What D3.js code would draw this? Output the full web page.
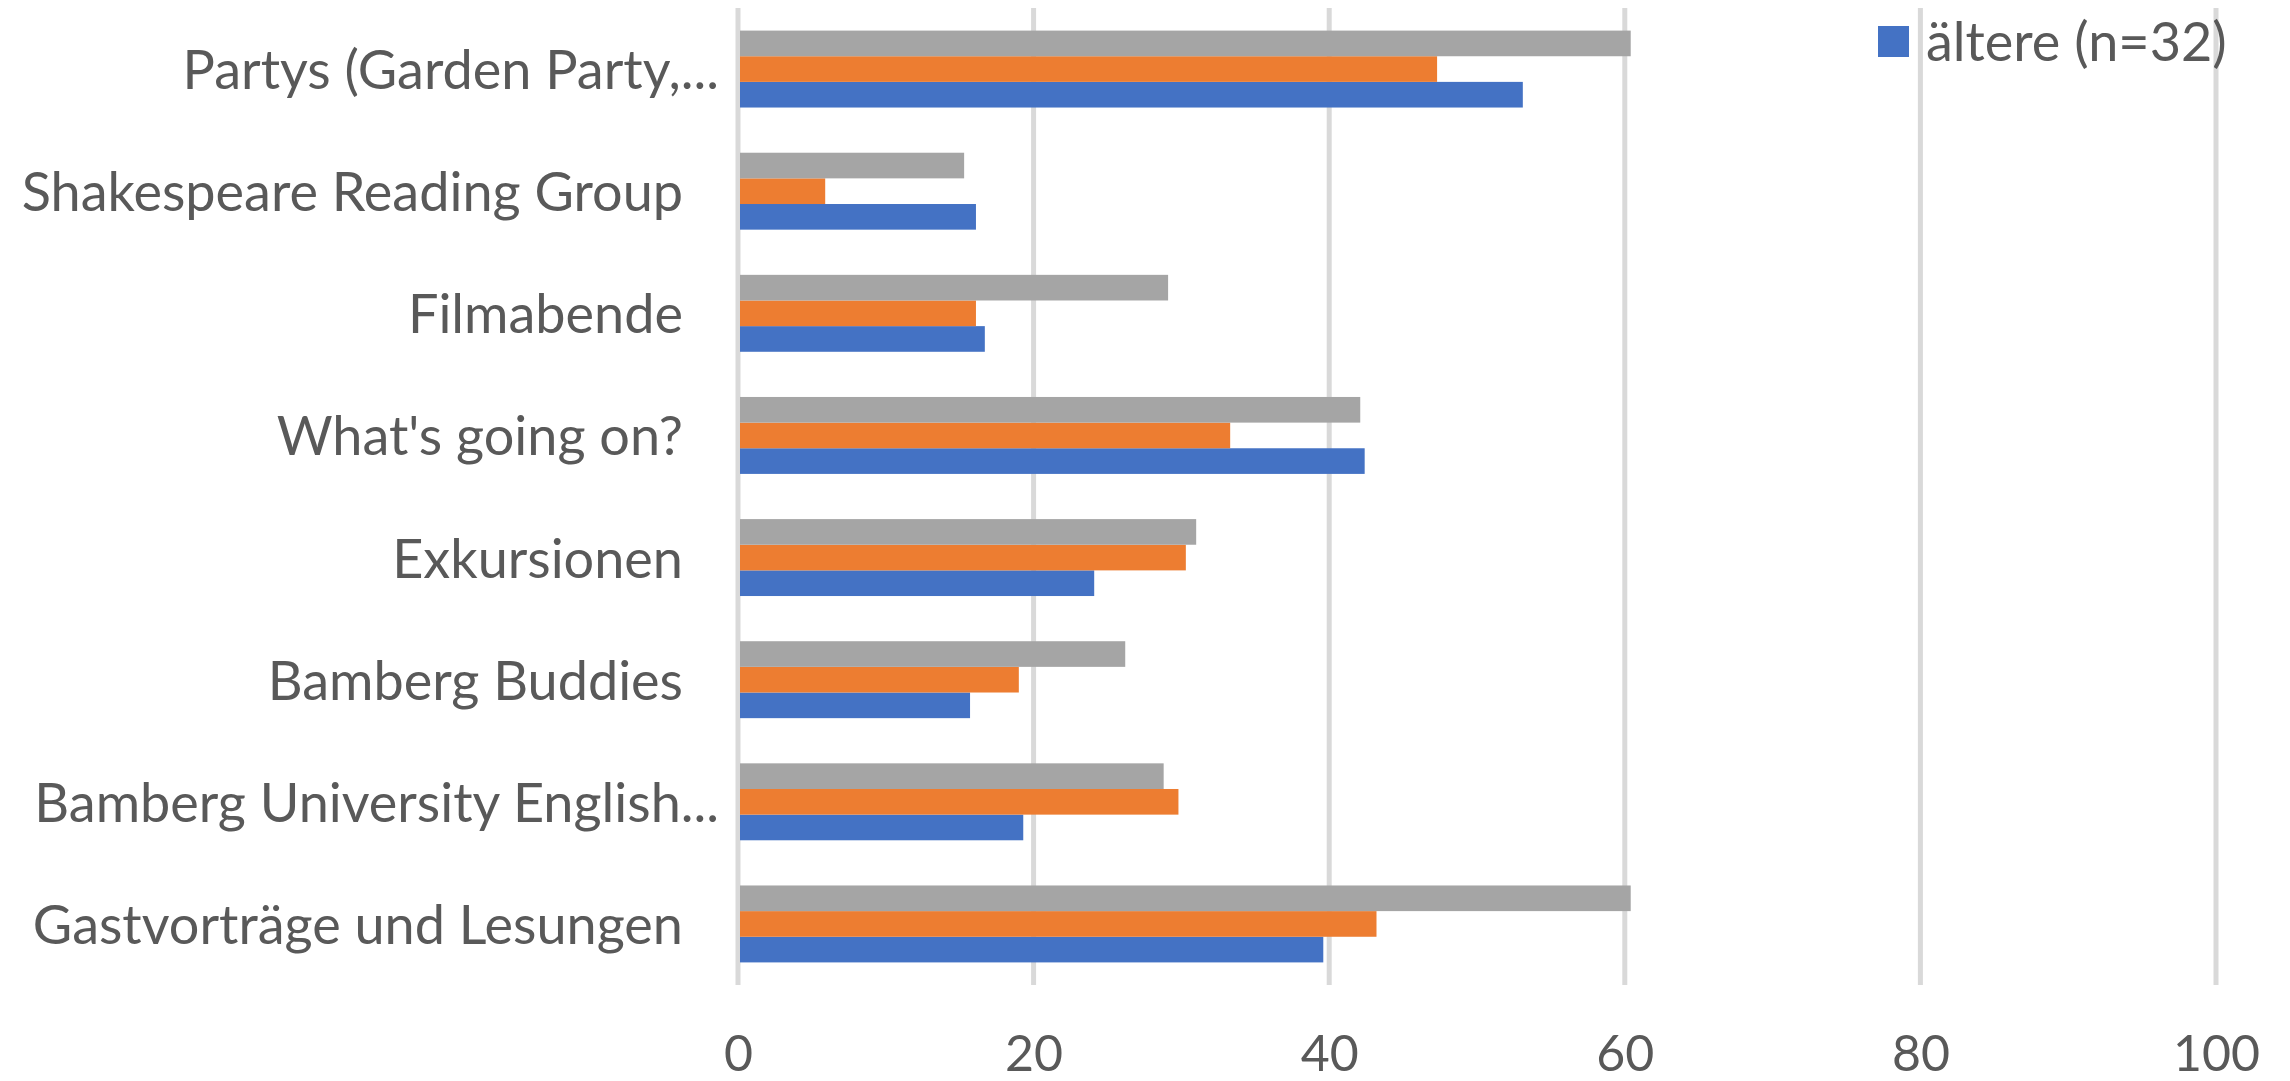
<!DOCTYPE html>
<html>
<head>
<meta charset="utf-8">
<script src="https://cdn.jsdelivr.net/npm/d3@7"></script>
<style>
  body { margin: 0; background: #fff; }
  text { font-family: Lato, "Open Sans", sans-serif; fill: #595959; }
</style>
</head>
<body>
<div id="chart"></div>
<script>
'use strict';

var categories = [
  'Partys (Garden Party,...',
  'Shakespeare Reading Group',
  'Filmabende',
  "What's going on?",
  'Exkursionen',
  'Bamberg Buddies',
  'Bamberg University English...',
  'Gastvorträge und Lesungen'
];
var seriesNames = ['ältere (n=32)', 'Serie 2', 'Serie 3'];
var aeltere = [53.1, 16.1, 16.7, 42.4, 24.1, 15.7, 19.3, 39.6];
var serie2 = [47.3, 5.9, 16.1, 33.3, 30.3, 19.0, 29.8, 43.2];
var serie3 = [60.4, 15.3, 29.1, 42.1, 31.0, 26.2, 28.8, 60.4];
var xTicks = [0, 20, 40, 60, 80, 100];
var colors = ['#4472C4', '#ED7D31', '#A5A5A5'];

var width = 2290, height = 1081;
var margin = {top: 8, right: 74, bottom: 96, left: 738};

var svg = d3.select('#chart').append('svg')
  .attr('width', width)
  .attr('height', height);

// scales
var x = d3.scaleLinear()
  .domain([0, 100])
  .range([margin.left, width - margin.right]);
var y = d3.scaleBand()
  .domain(categories)
  .range([margin.top, height - margin.bottom])
  .paddingInner(0.37)
  .paddingOuter(0.185);
// gray on top, then orange, blue at the bottom
var ySub = d3.scaleBand()
  .domain([2, 1, 0])
  .range([0, y.bandwidth()]);

// gridlines
svg.append('g')
  .selectAll('line')
  .data(xTicks)
  .enter()
  .append('line')
  .attr('x1', function(d) { return x(d); })
  .attr('x2', function(d) { return x(d); })
  .attr('y1', margin.top)
  .attr('y2', height - margin.bottom)
  .style('stroke', '#D9D9D9')
  .style('stroke-width', 5);

// bars
var rows = categories.map(function(c, i) {
  return [aeltere[i], serie2[i], serie3[i]];
});
var groups = svg.append('g')
  .selectAll('g')
  .data(rows)
  .enter()
  .append('g')
  .attr('transform', function(d, i) {
    return 'translate(0,' + y(categories[i]) + ')';
  });
groups.selectAll('rect')
  .data(function(d) { return d; })
  .enter()
  .append('rect')
  .attr('x', x(0) + 2)
  .attr('y', function(d, s) { return ySub(s); })
  .attr('width', function(d) { return x(d) - x(0) - 2; })
  .attr('height', ySub.bandwidth())
  .style('fill', function(d, s) { return colors[s]; });

// category labels (the cut-off ones stick out a bit, like in excel)
svg.append('g')
  .selectAll('text')
  .data(categories)
  .enter()
  .append('text')
  .attr('x', function(d) { return d.slice(-3) === '...' ? 719 : 683; })
  .attr('y', function(d) { return y(d) + y.bandwidth() / 2; })
  .attr('dy', '0.37em')
  .attr('text-anchor', 'end')
  .style('font-size', '54px')
  .text(function(d) { return d; });

// x axis labels
var xAxis = svg.append('g')
  .attr('transform', 'translate(0,' + (height - 10) + ')')
  .call(d3.axisBottom(x).tickValues(xTicks).tickSize(0).tickPadding(0));
xAxis.select('.domain').remove();
xAxis.selectAll('text')
  .attr('dy', 0)
  .style('font-family', 'Lato, sans-serif')
  .style('font-size', '50px')
  .style('fill', '#595959');

// legend (only the first entry fits)
var legend = svg.append('g')
  .attr('transform', 'translate(1878,26)');
legend.append('rect')
  .attr('width', 31)
  .attr('height', 31)
  .style('fill', colors[0]);
legend.append('text')
  .attr('x', 48)
  .attr('y', 35)
  .style('font-size', '54px')
  .text(seriesNames[0]);
</script>
</body>
</html>
